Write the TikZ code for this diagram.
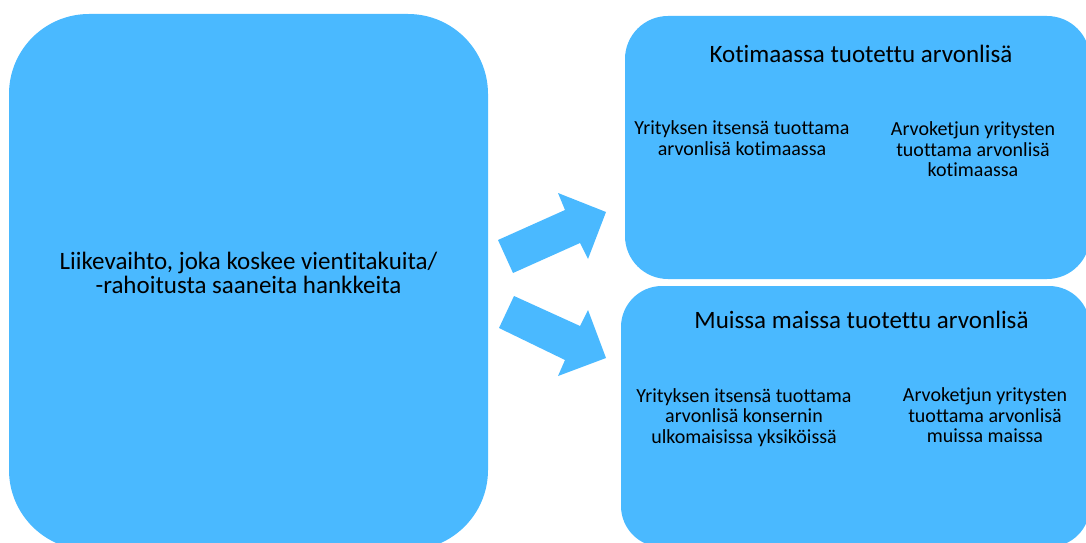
\documentclass[tikz,border=0pt]{standalone}
\usepackage{fontspec}
\setmainfont{Carlito}[Ligatures=NoCommon]
\definecolor{boxblue}{RGB}{74,185,255}
\begin{document}
\begin{tikzpicture}[x=1pt,y=-1pt,
  box/.style={fill=boxblue, draw=none, rectangle, inner sep=0pt, outer sep=0pt},
  bigtext/.style={font=\fontsize{25}{24.5}\selectfont, align=center, inner sep=0pt, text=black},
  subtext/.style={font=\fontsize{20}{20.5}\selectfont, align=center, inner sep=0pt, text=black},
  blockarrow/.style={fill=boxblue, draw=none}]
\useasboundingbox (0,0) rectangle (1086,543);
\begin{scope}
\clip (0,0) rectangle (1086,543);
% boxes
\node[box, rounded corners=80pt, minimum width=479pt, minimum height=536pt] (src) at (248.5,282) {};
\node[box, rounded corners=43pt, minimum width=465pt, minimum height=263pt] (dom) at (857.5,147.5) {};
\node[box, rounded corners=41pt, minimum width=469pt, minimum height=261pt] (oth) at (855.5,416.5) {};
% arrows
\coordinate (a1) at (498,240);
\coordinate (a2) at (565,210);
\coordinate (a3) at (558,193);
\coordinate (a4) at (606,212);
\coordinate (a5) at (588,259);
\coordinate (a6) at (580,243);
\coordinate (a7) at (513,273);
\fill[blockarrow] (a1) -- (a2) -- (a3) -- (a4) -- (a5) -- (a6) -- (a7) -- cycle;
\coordinate (b1) at (514,296);
\coordinate (b2) at (580,326);
\coordinate (b3) at (588,310);
\coordinate (b4) at (606,358);
\coordinate (b5) at (558,376);
\coordinate (b6) at (565,360);
\coordinate (b7) at (499,328);
\fill[blockarrow] (b1) -- (b2) -- (b3) -- (b4) -- (b5) -- (b6) -- (b7) -- cycle;
% texts
\node[bigtext] (srctext) at (248.5,273) {Liikevaihto, joka koskee vientitakuita/\\-rahoitusta saaneita hankkeita};
\node[bigtext, anchor=base] (domtitle) at (861,63) {Kotimaassa tuotettu arvonlisä};
\node[subtext] (domown) at (742,138) {Yrityksen itsensä tuottama\\arvonlisä kotimaassa};
\node[subtext] (domchain) at (973,149.5) {Arvoketjun yritysten\\tuottama arvonlisä\\kotimaassa};
\node[bigtext, anchor=base] (othtitle) at (861.5,328) {Muissa maissa tuotettu arvonlisä};
\node[subtext] (othown) at (744,417.5) {Yrityksen itsensä tuottama\\arvonlisä konsernin\\ulkomaisissa yksiköissä};
\node[subtext] (othchain) at (985,415.5) {Arvoketjun yritysten\\tuottama arvonlisä\\muissa maissa};
\end{scope}
\end{tikzpicture}
\end{document}
